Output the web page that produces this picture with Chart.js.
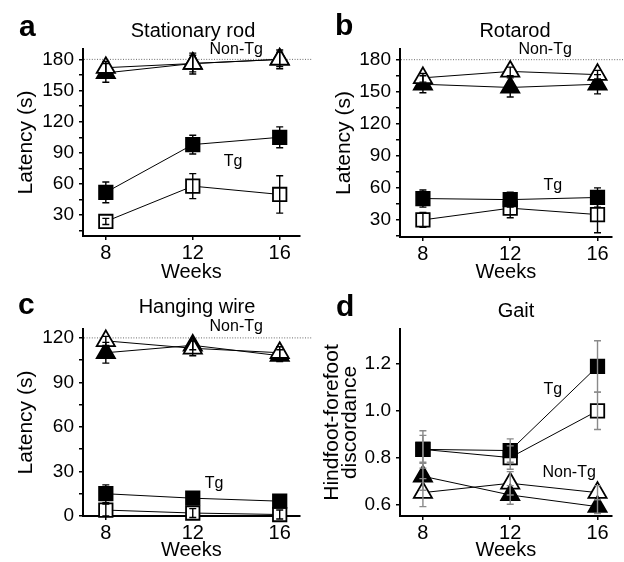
<!DOCTYPE html>
<html><head><meta charset="utf-8">
<script src="https://cdn.jsdelivr.net/npm/chart.js@4.4.0/dist/chart.umd.min.js"></script>
<style>
html,body{margin:0;padding:0;background:#fff;}
#wrap{position:relative;width:624px;height:562px;overflow:hidden;background:#fff;}
canvas{position:absolute;}
</style></head><body>
<div id="wrap">
<canvas id="ca" style="left:0;top:0" width="312" height="285"></canvas>
<canvas id="cb" style="left:312px;top:0" width="312" height="285"></canvas>
<canvas id="cc" style="left:0;top:280px" width="312" height="282"></canvas>
<canvas id="cd" style="left:312px;top:280px" width="312" height="282"></canvas>
</div>
<script>
// ---------- data ----------
const weeks = [8, 12, 16];
const weekTicks = [8, 12, 16];
const latencyTicks = [15, 30, 45, 60, 75, 90, 105, 120, 135, 150, 165, 180];
const wireTicks = [0, 15, 30, 45, 60, 75, 90, 105, 120];
const gaitTicks = [0.6, 0.8, 1.0, 1.2];

// a  Stationary rod
const rodNonOpen = [172, 176, 180];     const rodNonOpenErr = [6, 8, 7];
const rodNonFilled = [167, 176, 180];   const rodNonFilledErr = [9, 10, 9];
const rodTgFilled = [52, 98, 105];      const rodTgFilledErr = [10, 9, 10];
const rodTgOpen = [24, 58, 50];         const rodTgOpenErr = [3, 12, 18];

// b  Rotarod
const rotaNonOpen = [163, 169, 166];    const rotaNonOpenErr = [4, 4, 4];
const rotaNonFilled = [157, 154, 157];  const rotaNonFilledErr = [8, 9, 9];
const rotaTgFilled = [50, 49, 51];      const rotaTgFilledErr = [8, 7, 9];
const rotaTgOpen = [30, 41, 35];        const rotaTgOpenErr = [7, 9, 17];

// c  Hanging wire
const wireNonOpen = [118, 113, 110];    const wireNonOpenErr = [3, 5, 4];
const wireNonFilled = [110, 115, 108];  const wireNonFilledErr = [7, 3, 4];
const wireTgFilled = [15, 12, 10];      const wireTgFilledErr = [6, 4, 4];
const wireTgOpen = [4, 2, 1];           const wireTgOpenErr = [4, 3, 3];

// d  Gait
const gaitTgFilled = [0.835, 0.83, 1.19];  const gaitTgFilledErr = [0.08, 0.05, 0.11];
const gaitTgOpen = [0.835, 0.80, 1.00];    const gaitTgOpenErr = [0.06, 0.05, 0.08];
const gaitNonFilled = [0.72, 0.64, 0.59];  const gaitNonFilledErr = [0.06, 0.04, 0.03];
const gaitNonOpen = [0.65, 0.69, 0.65];    const gaitNonOpenErr = [0.06, 0.05, 0.03];

// ---------- rendering ----------
const FONT = "'Liberation Sans', Arial, Helvetica, sans-serif";

const extras = {
  id: 'extras',
  beforeDatasetsDraw(chart, args, o) {
    if (o.refLine == null) return;
    const ctx = chart.ctx, y = chart.scales.y.getPixelForValue(o.refLine);
    ctx.save();
    ctx.strokeStyle = '#444'; ctx.lineWidth = 0.8; ctx.setLineDash([1, 1.6]);
    ctx.beginPath(); ctx.moveTo(chart.chartArea.left + 1, y); ctx.lineTo(chart.width, y); ctx.stroke();
    ctx.restore();
  },
  afterDatasetsDraw(chart, args, o) {
    const ctx = chart.ctx, xs = chart.scales.x, ys = chart.scales.y;
    ctx.save();
    ctx.strokeStyle = o.errColor || '#000'; ctx.lineWidth = 1.4;
    for (let i = chart.data.datasets.length - 1; i >= 0; i--) {
      const ds = chart.data.datasets[i];
      if (!ds.err) continue;
      ds.data.forEach((p, j) => {
        const x = xs.getPixelForValue(p.x);
        const yl = ys.getPixelForValue(p.y - ds.err[j]);
        const yh = ys.getPixelForValue(p.y + ds.err[j]);
        ctx.beginPath();
        ctx.moveTo(x, yl); ctx.lineTo(x, yh);
        ctx.moveTo(x - 3.5, yl); ctx.lineTo(x + 3.5, yl);
        ctx.moveTo(x - 3.5, yh); ctx.lineTo(x + 3.5, yh);
        ctx.stroke();
      });
    }
    ctx.restore();
  },
  afterDraw(chart, args, o) {
    const ctx = chart.ctx, xs = chart.scales.x, ys = chart.scales.y;
    ctx.save();
    ctx.fillStyle = '#000';
    ctx.textBaseline = 'alphabetic';
    ctx.textAlign = 'left';
    ctx.font = 'bold 30px ' + FONT;
    ctx.fillText(o.letter, o.letterX, o.letterY);
    ctx.textAlign = 'center';
    ctx.font = '20px ' + FONT;
    ctx.fillText(o.title, o.titleX, o.titleY);
    ctx.font = '16px ' + FONT;
    ctx.textBaseline = 'middle';
    (o.notes || []).forEach(n => {
      ctx.fillText(n.text, xs.getPixelForValue(n.x), ys.getPixelForValue(n.y));
    });
    ctx.restore();
  }
};
Chart.register(extras);

function series(label, vals, errs, shape, filled) {
  return {
    label,
    data: weeks.map((w, i) => ({ x: w, y: vals[i] })),
    err: errs,
    showLine: true,
    borderColor: '#000',
    borderWidth: 1,
    pointStyle: shape,
    pointRadius: shape === 'triangle' ? 10.5 : 9.5,
    pointBackgroundColor: filled ? '#000' : '#fff',
    pointBorderColor: '#000',
    pointBorderWidth: 1.8,
    tension: 0,
    clip: false
  };
}

function panel(id, c) {
  new Chart(document.getElementById(id), {
    type: 'line',
    data: { datasets: c.datasets },
    options: {
      responsive: false,
      animation: false,
      events: [],
      layout: { padding: { top: c.padTop, right: c.padRight, left: 0, bottom: 0 } },
      plugins: {
        legend: { display: false },
        tooltip: { enabled: false },
        extras: c.extras
      },
      scales: {
        x: {
          type: 'linear', min: c.xMin, max: c.xMax,
          afterBuildTicks: s => { s.ticks = weekTicks.map(v => ({ value: v })); },
          afterFit: s => { s.height = c.xHeight; },
          ticks: { autoSkip: false, maxRotation: 0, padding: 1, color: '#000', font: { family: FONT, size: 20 } },
          grid: { display: true, drawOnChartArea: false, drawTicks: true, tickLength: 4, color: '#000', lineWidth: 1.5 },
          border: { display: true, color: '#000', width: 2 },
          title: { display: true, text: 'Weeks', color: '#000', font: { family: FONT, size: 20 }, padding: { top: 0, bottom: c.xTitlePad } }
        },
        y: {
          type: 'linear', min: c.yMin, max: c.yMax,
          afterBuildTicks: s => { s.ticks = c.yTicks.map(v => ({ value: v })); },
          afterFit: s => { s.width = c.yWidth; },
          ticks: { autoSkip: false, padding: 5, color: '#000', font: { family: FONT, size: 19 }, callback: c.yLabel },
          grid: { display: true, drawOnChartArea: false, drawTicks: true, tickLength: 4, color: '#000', lineWidth: 1.5 },
          border: { display: true, color: '#000', width: 2 },
          title: { display: true, text: c.yTitle, color: '#000', font: { family: FONT, size: 21, lineHeight: c.yTitleLH || 1.2 }, padding: { top: c.yTitlePad, bottom: 0 } }
        }
      }
    }
  });
}

const lat30 = v => (v % 30 === 0 ? String(v) : '');

panel('ca', {
  datasets: [
    series('Non-Tg open', rodNonOpen, rodNonOpenErr, 'triangle', false),
    series('Non-Tg filled', rodNonFilled, rodNonFilledErr, 'triangle', true),
    series('Tg filled', rodTgFilled, rodTgFilledErr, 'rect', true),
    series('Tg open', rodTgOpen, rodTgOpenErr, 'rect', false)
  ],
  xMin: 6.95, xMax: 16.92, yMin: 10, yMax: 190, yTicks: latencyTicks, yLabel: lat30,
  yTitle: 'Latency (s)', yTitlePad: 14, yWidth: 83, xHeight: 49, xTitlePad: 1, padTop: 49, padRight: 1,
  extras: {
    letter: 'a', letterX: 19, letterY: 36, title: 'Stationary rod', titleX: 193, titleY: 37, refLine: 180,
    notes: [{ text: 'Non-Tg', x: 14, y: 189.5 }, { text: 'Tg', x: 13.85, y: 82 }]
  }
});

panel('cb', {
  datasets: [
    series('Non-Tg open', rotaNonOpen, rotaNonOpenErr, 'triangle', false),
    series('Non-Tg filled', rotaNonFilled, rotaNonFilledErr, 'triangle', true),
    series('Tg filled', rotaTgFilled, rotaTgFilledErr, 'rect', true),
    series('Tg open', rotaTgOpen, rotaTgOpenErr, 'rect', false)
  ],
  xMin: 6.95, xMax: 16.65, yMin: 14, yMax: 190, yTicks: latencyTicks, yLabel: lat30,
  yTitle: 'Latency (s)', yTitlePad: 20, yWidth: 88, xHeight: 48, xTitlePad: 1, padTop: 49, padRight: 2,
  extras: {
    letter: 'b', letterX: 23, letterY: 35, title: 'Rotarod', titleX: 203, titleY: 37, refLine: 180,
    notes: [{ text: 'Non-Tg', x: 13.6, y: 189.4 }, { text: 'Tg', x: 13.95, y: 62 }]
  }
});

panel('cc', {
  datasets: [
    series('Non-Tg open', wireNonOpen, wireNonOpenErr, 'triangle', false),
    series('Non-Tg filled', wireNonFilled, wireNonFilledErr, 'triangle', true),
    series('Tg filled', wireTgFilled, wireTgFilledErr, 'rect', true),
    series('Tg open', wireTgOpen, wireTgOpenErr, 'rect', false)
  ],
  xMin: 6.95, xMax: 16.92, yMin: 0, yMax: 126, yTicks: wireTicks, yLabel: lat30,
  yTitle: 'Latency (s)', yTitlePad: 14, yWidth: 83, xHeight: 46, xTitlePad: 0, padTop: 49, padRight: 1,
  extras: {
    letter: 'c', letterX: 18, letterY: 34, title: 'Hanging wire', titleX: 197, titleY: 33, refLine: 120,
    notes: [{ text: 'Non-Tg', x: 14, y: 127.3 }, { text: 'Tg', x: 12.98, y: 21.5 }]
  }
});

panel('cd', {
  datasets: [
    series('Tg filled', gaitTgFilled, gaitTgFilledErr, 'rect', true),
    series('Tg open', gaitTgOpen, gaitTgOpenErr, 'rect', false),
    series('Non-Tg filled', gaitNonFilled, gaitNonFilledErr, 'triangle', true),
    series('Non-Tg open', gaitNonOpen, gaitNonOpenErr, 'triangle', false)
  ],
  xMin: 6.95, xMax: 16.65, yMin: 0.55, yMax: 1.35, yTicks: gaitTicks, yLabel: v => v.toFixed(1),
  yTitle: ['Hindfoot-forefoot', 'discordance'], yTitleLH: 0.85, yTitlePad: 11, yWidth: 88, xHeight: 46, xTitlePad: 0, padTop: 49, padRight: 2,
  extras: {
    letter: 'd', letterX: 24, letterY: 36, title: 'Gait', titleX: 204, titleY: 37, refLine: null, errColor: '#8a8a8a',
    notes: [{ text: 'Tg', x: 13.95, y: 1.09 }, { text: 'Non-Tg', x: 14.7, y: 0.735 }]
  }
});
</script>
</body></html>
